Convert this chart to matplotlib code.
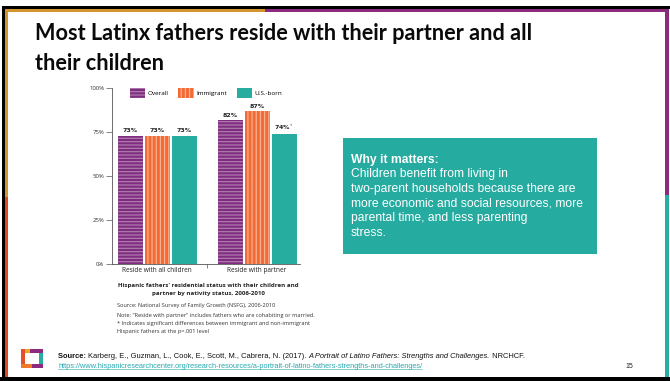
import matplotlib
matplotlib.use("Agg")
import matplotlib.pyplot as plt
from matplotlib.patches import Rectangle, Patch
from matplotlib.lines import Line2D
import numpy as np

# data
categories = ["Reside with all children", "Reside with partner"]
series = ["Overall", "Immigrant", "U.S.-born"]
overall = [73, 82]
immigrant = [73, 87]
usborn = [73, 74]
value_labels = [["73%", "82%"], ["73%", "87%"], ["73%", "74%$^{*}$"]]
yticks = [0, 25, 50, 75, 100]
ytick_labels = ["0%", "25%", "50%", "75%", "100%"]

W, H = 670, 381
plt.rcParams["hatch.linewidth"] = 0.9
fig = plt.figure(figsize=(W / 100, H / 100), dpi=100)
fig.patch.set_facecolor("white")


def rect(x0, y0, x1, y1, color, **kw):
    # pixel coords, y measured from the top
    r = Rectangle((x0 / W, 1 - y1 / H), (x1 - x0) / W, (y1 - y0) / H,
                  transform=fig.transFigure, facecolor=color, edgecolor="none", **kw)
    fig.add_artist(r)
    return r


def ftext(x, y, s, **kw):
    return fig.text(x / W, 1 - y / H, s, **kw)


# slide frame
rect(3, 6, 670, 9, "black")
rect(2, 6, 5, 381, "black")
rect(0, 377, 670, 381, "black")
rect(5, 9, 265, 12, "#D3962F")
rect(265, 9, 669, 12, "#8C2A7E")
rect(5, 9, 8, 197, "#D3962F")
rect(5, 197, 8, 377, "#E0481F")
rect(665, 9, 669, 195, "#8C2A7E")
rect(665, 195, 669, 377, "#27ADA1")

# title
ftext(35, 40, "Most Latinx fathers reside with their partner and all",
      family="Lato", fontweight="bold", fontsize=15.6, va="baseline", color="#0a0a0a")
ftext(35, 70, "their children",
      family="Lato", fontweight="bold", fontsize=15.6, va="baseline", color="#0a0a0a")

# chart
ax = fig.add_axes([112 / W, 1 - 264 / H, (300 - 112) / W, (264 - 88) / H])
x = np.arange(len(categories))
bw = 0.25
step = 0.27
purple, purple_h = "#7F2D7E", "#B07AAE"
orange, orange_h = "#F26B36", "#FBB08E"
teal = "#26ADA0"

b1 = ax.bar(x - step, overall, bw, color=purple, edgecolor=purple_h, hatch="-----", linewidth=0)
b2 = ax.bar(x, immigrant, bw, color=orange, edgecolor=orange_h, hatch="||||", linewidth=0)
b3 = ax.bar(x + step, usborn, bw, color=teal, linewidth=0)

for bars, labs in zip([b1, b2, b3], value_labels):
    for bar, lab in zip(bars, labs):
        ax.text(bar.get_x() + bar.get_width() / 2, bar.get_height() + 1.2, lab,
                ha="center", va="bottom", fontsize=4.5, fontweight="bold",
                family="DejaVu Sans", color="#222222")

ax.set_ylim(0, 100)
ax.set_xlim(-0.45, 1.43)
ax.set_yticks(yticks)
ax.set_yticklabels(ytick_labels)
ax.set_xticks(x)
ax.set_xticklabels(categories)
ax.set_xticks([0.5], minor=True)
ax.tick_params(axis="x", which="major", length=0, labelsize=4.7, pad=2.5, colors="#222222")
ax.tick_params(axis="x", which="minor", length=3, width=0.5, color="#555555")
ax.tick_params(axis="y", length=4, width=0.5, labelsize=4.3, pad=1.5, color="#555555",
               labelcolor="#333333")
for lab in ax.get_xticklabels() + ax.get_yticklabels():
    lab.set_family("Open Sans")
for s in ["top", "right"]:
    ax.spines[s].set_visible(False)
for s in ["left", "bottom"]:
    ax.spines[s].set_linewidth(0.6)
    ax.spines[s].set_color("#555555")

handles = [Patch(facecolor=purple, edgecolor=purple_h, hatch="-----", linewidth=0),
           Patch(facecolor=orange, edgecolor=orange_h, hatch="||||", linewidth=0),
           Patch(facecolor=teal, linewidth=0)]
leg = ax.legend(handles, series, ncol=3, loc="upper center", bbox_to_anchor=(0.5, 1.03),
                frameon=False, handlelength=2.4, handleheight=1.9,
                columnspacing=1.5, handletextpad=0.4, prop={"family": "Open Sans", "size": 4.6})

# caption and notes under the chart
ftext(208, 286, "Hispanic fathers' residential status with their children and",
      ha="center", va="center", fontsize=4.4, fontweight="bold", family="Open Sans", color="#222222")
ftext(208, 294, "partner by nativity status, 2006-2010",
      ha="center", va="center", fontsize=4.4, fontweight="bold", family="Open Sans", color="#222222")
notes = ["Source: National Survey of Family Growth (NSFG), 2006-2010",
         "Note: \"Reside with partner\" includes fathers who are cohabiting or married.",
         "* Indicates significant differences between immigrant and non-immigrant",
         "Hispanic fathers at the p=.001 level"]
for ny, nt in zip([306, 316, 324, 332], notes):
    ftext(117, ny, nt, ha="left", va="center", fontsize=4.1, family="Open Sans", color="#333333")

# why it matters box
rect(343, 138, 597, 254, "#26ABA0")
ftext(351, 160, "Why it matters:", ha="left", va="center", fontsize=8.75,
      fontweight="bold", family="Liberation Sans", color="white")
body = ["Children benefit from living in",
        "two-parent households because there are",
        "more economic and social resources, more",
        "parental time, and less parenting",
        "stress."]
for i, line in enumerate(body):
    ftext(351, 174.5 + i * 14.5, line, ha="left", va="center", fontsize=8.75,
          family="Liberation Sans", color="white")

# logo
rect(21, 349, 43, 353, "#F0A52B")
rect(21, 349, 25, 368, "#E5502A")
rect(39, 349, 43, 368, "#27ADA1")
rect(21, 364, 43, 368, "#8C2A7E")
rect(30, 349, 43, 353, "#8C2A7E")
rect(21, 364, 32, 368, "#F07A2A")

# footer source line built from pieces
fig.canvas.draw()
renderer = fig.canvas.get_renderer()
pieces = [("Source: ", "bold", "normal"),
          ("Karberg, E., Guzman, L., Cook, E., Scott, M., Cabrera, N. (2017). ", "normal", "normal"),
          ("A Portrait of Latino Fathers: Strengths and Challenges.", "normal", "italic"),
          (" NRCHCF.", "normal", "normal")]
px = 58
for s, wgt, sty in pieces:
    t = ftext(px, 357, s, ha="left", va="center", fontsize=5.4, fontweight=wgt,
              style=sty, family="Liberation Sans", color="#111111")
    bb = t.get_window_extent(renderer)
    px += bb.width
link = ftext(58, 366, "https://www.hispanicresearchcenter.org/research-resources/"
             "a-portrait-of-latino-fathers-strengths-and-challenges/",
             ha="left", va="center", fontsize=5.3, family="Liberation Sans", color="#27A9B0")
lb = link.get_window_extent(renderer)
fig.add_artist(Line2D([lb.x0 / W, lb.x1 / W], [(lb.y0 + 0.3) / H, (lb.y0 + 0.3) / H],
                      transform=fig.transFigure, color="#27A9B0", linewidth=0.4))
ftext(625, 366, "15", ha="left", va="center", fontsize=5.0, family="Liberation Sans", color="#222222")

fig.savefig("out.png", dpi=100)
